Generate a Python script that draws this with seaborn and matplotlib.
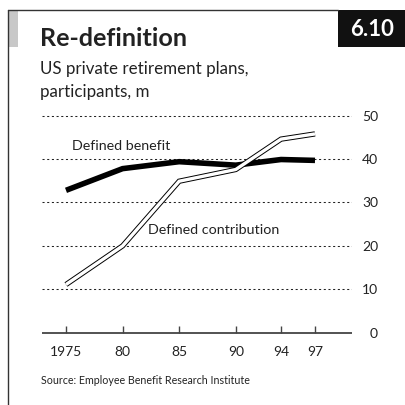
import matplotlib
matplotlib.use("Agg")
import matplotlib.pyplot as plt
import seaborn as sns
import pandas as pd
from matplotlib.patches import Rectangle
from matplotlib.lines import Line2D

years = [1975, 1980, 1985, 1990, 1994, 1997]
year_labels = ["1975", "80", "85", "90", "94", "97"]
defined_benefit = [32.8, 37.8, 39.4, 38.6, 39.9, 39.7]
defined_contribution = [11.1, 20.0, 34.9, 37.6, 44.6, 45.8]
y_ticks = [0, 10, 20, 30, 40, 50]

df = pd.DataFrame({"year": years, "db": defined_benefit, "dc": defined_contribution})

sns.set_theme(style="white")
plt.rcParams["font.family"] = ["Lato", "DejaVu Sans"]

W, H = 406, 405
fig = plt.figure(figsize=(W / 100, H / 100), dpi=100)

def fx(px):
    return px / W

def fy(py):
    return 1 - py / H

ax = fig.add_axes([fx(42), fy(334), fx(352) - fx(42), fy(107) - fy(334)])

sns.lineplot(data=df, x="year", y="db", ax=ax, color="black", lw=4.0,
             solid_capstyle="butt", solid_joinstyle="miter", zorder=4)
sns.lineplot(data=df, x="year", y="dc", ax=ax, color="black", lw=3.8,
             solid_capstyle="butt", solid_joinstyle="miter", zorder=5)
sns.lineplot(data=df, x="year", y="dc", ax=ax, color="white", lw=2.4,
             solid_capstyle="butt", solid_joinstyle="miter", zorder=6)

ax.set_xlim(1972.88, 2000.27)
ax.set_ylim(-0.3, 52)

for v in y_ticks[1:]:
    ax.axhline(v, color="#222222", lw=0.75, ls=(0, (2, 2.5)), zorder=1)
ax.plot([1972.88, 2000.27], [0, 0], color="#444444", lw=1.3, zorder=3,
        solid_capstyle="butt")
# upward tick marks at each year
for yr in years:
    ax.plot([yr, yr], [0, 1.6], color="#444444", lw=1.0, zorder=3,
            solid_capstyle="butt")

for s in ax.spines.values():
    s.set_visible(False)
ax.set_xlabel("")
ax.set_ylabel("")
ax.set_xticks(years)
ax.set_xticklabels(year_labels, fontsize=10, color="#222222")
ax.tick_params(axis="x", length=0, pad=9)
ax.yaxis.tick_right()
ax.set_yticks(y_ticks)
ax.set_yticklabels([str(v) for v in y_ticks], fontsize=10, color="#222222",
                   ha="right")
ax.tick_params(axis="y", length=0, pad=18.7)
ax.grid(False)

ax.text(1975.53, 42.9, "Defined benefit", fontsize=10.3, color="#222222", va="center")
ax.text(1982.24, 23.6, "Defined contribution", fontsize=10.3, color="#222222", va="center")

# frame
fig.add_artist(Line2D([fx(7.5), fx(7.5)], [fy(10), fy(405)], color="#333333", lw=1.0))
fig.add_artist(Line2D([fx(7.5), fx(338)], [fy(10), fy(10)], color="#333333", lw=1.0))
fig.add_artist(Rectangle((fx(8), fy(47)), fx(10.5), fy(11) - fy(47), color="#c8c8c8", lw=0))
fig.add_artist(Rectangle((fx(338), fy(47)), fx(406) - fx(338), fy(10) - fy(47), color="#111111", lw=0))
fig.text(fx(372), fy(29), "6.10", color="white", fontsize=16, fontweight="bold",
         ha="center", va="center")

fig.text(fx(40), fy(39), "Re-definition", fontsize=18.1, fontweight="bold",
         color="#222222", va="center")
fig.text(fx(40), fy(69), "US private retirement plans,", fontsize=12.2,
         color="#222222", va="center")
fig.text(fx(40), fy(92), "participants, m", fontsize=12.2, color="#222222", va="center")
fig.text(fx(41), fy(380), "Source: Employee Benefit Research Institute", fontsize=7.7,
         color="#222222", va="center")

fig.savefig("out.png", dpi=100)
